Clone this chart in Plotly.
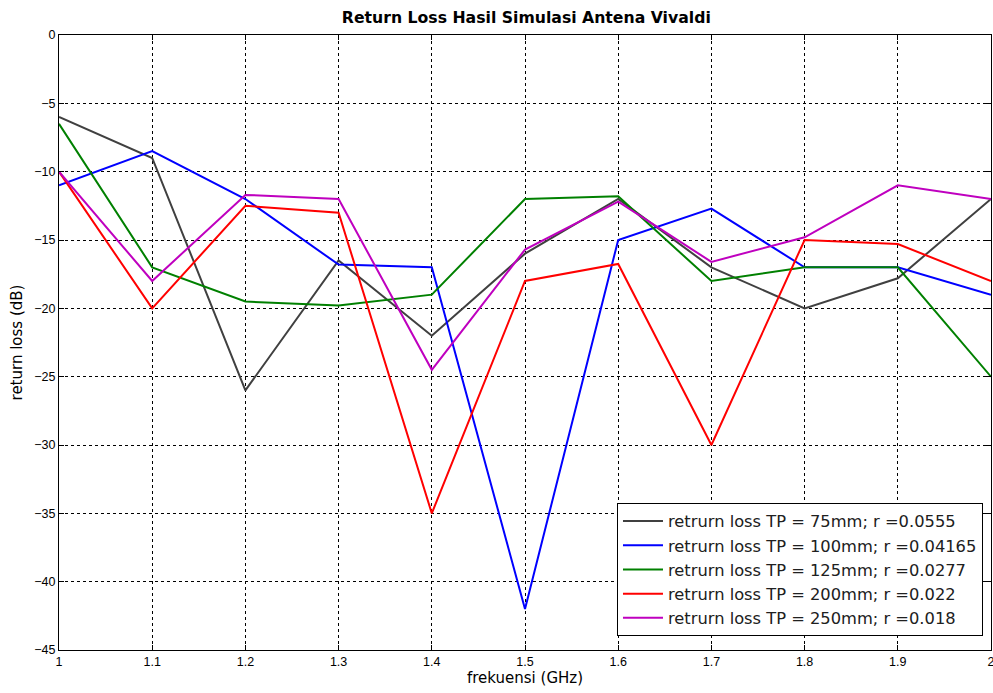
import plotly.graph_objects as go

freq = [1.0, 1.1, 1.2, 1.3, 1.4, 1.5, 1.6, 1.7, 1.8, 1.9, 2.0]
rl_75 = [-6, -9, -26, -16.5, -22, -16, -12, -17, -20, -17.8, -12]
rl_100 = [-11, -8.5, -12, -16.8, -17, -42, -15, -12.7, -17, -17, -19]
rl_125 = [-6.5, -17, -19.5, -19.8, -19, -12, -11.8, -18, -17, -17, -25]
rl_200 = [-10, -20, -12.5, -13, -35, -18, -16.75, -30, -15, -15.3, -18]
rl_250 = [-10, -18, -11.7, -12, -24.5, -15.7, -12.2, -16.6, -14.8, -11, -12]

names = [
    "retrurn loss TP = 75mm; r =0.0555",
    "retrurn loss TP = 100mm; r =0.04165",
    "retrurn loss TP = 125mm; r =0.0277",
    "retrurn loss TP = 200mm; r =0.022",
    "retrurn loss TP = 250mm; r =0.018",
]
series = [rl_75, rl_100, rl_125, rl_200, rl_250]
colors = ["#404040", "#0000ff", "#008000", "#ff0000", "#bf00bf"]

fig = go.Figure()
for n, s, c in zip(names, series, colors):
    fig.add_trace(go.Scatter(x=freq, y=s, mode="lines", name=n,
                             line=dict(color=c, width=2)))

axis_common = dict(
    showgrid=True, gridcolor="#000000", griddash="dot", gridwidth=1,
    showline=True, linecolor="#000000", linewidth=1, mirror="ticks",
    ticks="inside", ticklen=5, tickcolor="#000000", zeroline=False,
    ticklabeloverflow="allow", automargin=False,
    tickfont=dict(family="Liberation Sans, Arial", size=12.5, color="#000000"),
)

fig.update_layout(
    width=993, height=693,
    margin=dict(l=59, r=2, t=35, b=43),
    paper_bgcolor="white", plot_bgcolor="white",
    title=dict(text="<b>Return Loss Hasil Simulasi Antena Vivaldi</b>",
               x=0.53, xanchor="center", y=0.975, yanchor="middle",
               font=dict(family="DejaVu Sans", size=15.7, color="#000000")),
    xaxis=dict(range=[1, 2], tickmode="array",
               tickvals=[1.0, 1.1, 1.2, 1.3, 1.4, 1.5, 1.6, 1.7, 1.8, 1.9, 2.0],
               ticktext=["1", "1.1", "1.2", "1.3", "1.4", "1.5", "1.6", "1.7", "1.8", "1.9", "2"],
               title=dict(text="frekuensi (GHz)", standoff=4,
                          font=dict(family="DejaVu Sans", size=15, color="#000000")),
               **axis_common),
    yaxis=dict(range=[-45, 0], tickmode="array",
               tickvals=list(range(-45, 1, 5)),
               title=dict(text="return loss (dB)", standoff=8,
                          font=dict(family="DejaVu Sans", size=15, color="#000000")),
               **axis_common),
    legend=dict(x=0.9914, y=0.0228, xanchor="right", yanchor="bottom",
                bgcolor="white", bordercolor="#000000", borderwidth=1,
                font=dict(family="DejaVu Sans", size=16.3, color="#202020"),
                tracegroupgap=0, itemwidth=40),
    showlegend=True,
)

fig.write_html("out.html")
